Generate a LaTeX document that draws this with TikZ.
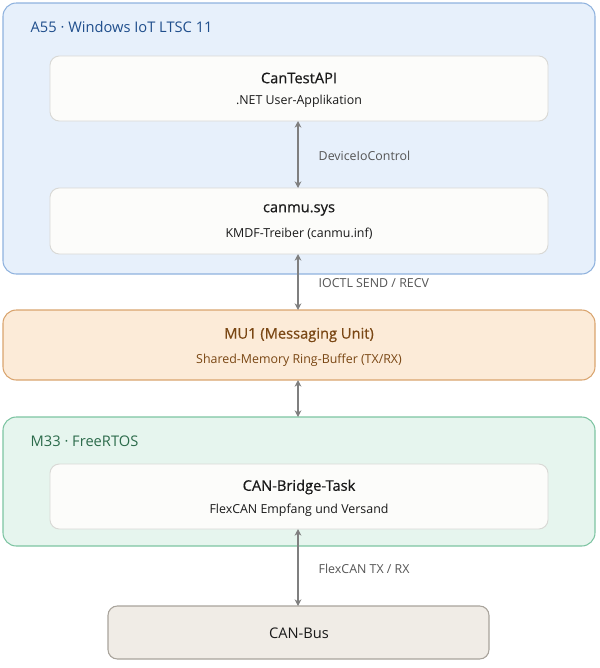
\documentclass[tikz,border=0pt]{standalone}
\usepackage{fontspec}
\setmainfont{Open Sans}
\newfontfamily\semib[FakeBold=0.6]{Open Sans}
\usetikzlibrary{arrows.meta}
\definecolor{blfill}{HTML}{E7F0FB}\definecolor{bldraw}{HTML}{8FB2DE}\definecolor{bltext}{HTML}{1F4E8C}
\definecolor{orfill}{HTML}{FCEBD8}\definecolor{ordraw}{HTML}{D9A46E}\definecolor{ortext}{HTML}{7A4714}
\definecolor{grfill}{HTML}{E6F5EE}\definecolor{grdraw}{HTML}{7DC4A2}\definecolor{grtext}{HTML}{2C6B4B}
\definecolor{inner}{HTML}{FCFCFA}\definecolor{innerd}{HTML}{D9D9D6}
\definecolor{busfill}{HTML}{F0ECE6}\definecolor{busdraw}{HTML}{A8A39B}
\definecolor{arr}{HTML}{7F7F7F}\definecolor{txt}{HTML}{1A1A1A}\definecolor{lbl}{HTML}{555555}
\tikzset{
 px/.style={x=0.75pt,y=-0.75pt},
 group/.style={rounded corners=10pt,line width=0.8pt},
 card/.style={rounded corners=7pt,fill=inner,draw=innerd,line width=0.7pt},
 conn/.style={{Stealth[length=5pt,width=5pt]}-{Stealth[length=5pt,width=5pt]},draw=arr,line width=1.1pt},
 ttl/.style={font=\semib\fontsize{11}{13}\selectfont,text=txt},
 sub/.style={font=\fontsize{9.3}{11}\selectfont,text=txt},
 lab/.style={font=\fontsize{9.3}{11}\selectfont,text=lbl,anchor=west}
}
\begin{document}
\begin{tikzpicture}[px]
\useasboundingbox (0,0) rectangle (600,668);
\draw[group,fill=blfill,draw=bldraw] (3,3) rectangle (595,274);
\node[anchor=west,font=\fontsize{11}{13}\selectfont,text=bltext] (t1) at (26,27) {A55 · Windows IoT LTSC 11};
\draw[card] (50,56) rectangle (548,121);
\node[ttl] (api) at (299,78) {CanTestAPI};
\node[sub] (apis) at (299,101) {.NET User-Applikation};
\coordinate (apiB) at (298,121);
\draw[card] (50,188) rectangle (548,254);
\node[ttl] (sys) at (299,210) {canmu.sys};
\node[sub] (syss) at (299,234) {KMDF-Treiber (canmu.inf)};
\coordinate (sysT) at (298,188); \coordinate (sysB) at (298,254);
\draw[group,fill=orfill,draw=ordraw] (3,310) rectangle (595,380);
\node[font=\semib\fontsize{11}{13}\selectfont,text=ortext] (mu) at (299,335) {MU1 (Messaging Unit)};
\node[font=\fontsize{9.3}{11}\selectfont,text=ortext] (mus) at (299,360) {Shared-Memory Ring-Buffer (TX/RX)};
\coordinate (muT) at (298,310); \coordinate (muB) at (298,380);
\draw[group,fill=grfill,draw=grdraw] (3,417) rectangle (595,546);
\node[anchor=west,font=\fontsize{11}{13}\selectfont,text=grtext] (t2) at (26,441) {M33 · FreeRTOS};
\coordinate (m33T) at (298,417);
\draw[card] (50,464) rectangle (548,529);
\node[ttl] (cb) at (299,487) {CAN-Bridge-Task};
\node[sub] (cbs) at (299,510) {FlexCAN Empfang und Versand};
\coordinate (cbB) at (298,529);
\draw[rounded corners=7pt,fill=busfill,draw=busdraw,line width=0.8pt] (108,606) rectangle (489,659);
\node[font=\fontsize{11}{13}\selectfont,text=txt] (bus) at (299,633) {CAN-Bus};
\coordinate (busT) at (298,606);
\draw[conn] (apiB) -- (sysT);
\draw[conn] (sysB) -- (muT);
\draw[conn] (muB) -- (m33T);
\draw[conn] (cbB) -- (busT);
\node[lab] (l1) at (314,156) {DeviceIoControl};
\node[lab] (l2) at (314,283) {IOCTL SEND / RECV};
\node[lab] (l3) at (314,569) {FlexCAN TX / RX};
\end{tikzpicture}
\end{document}
